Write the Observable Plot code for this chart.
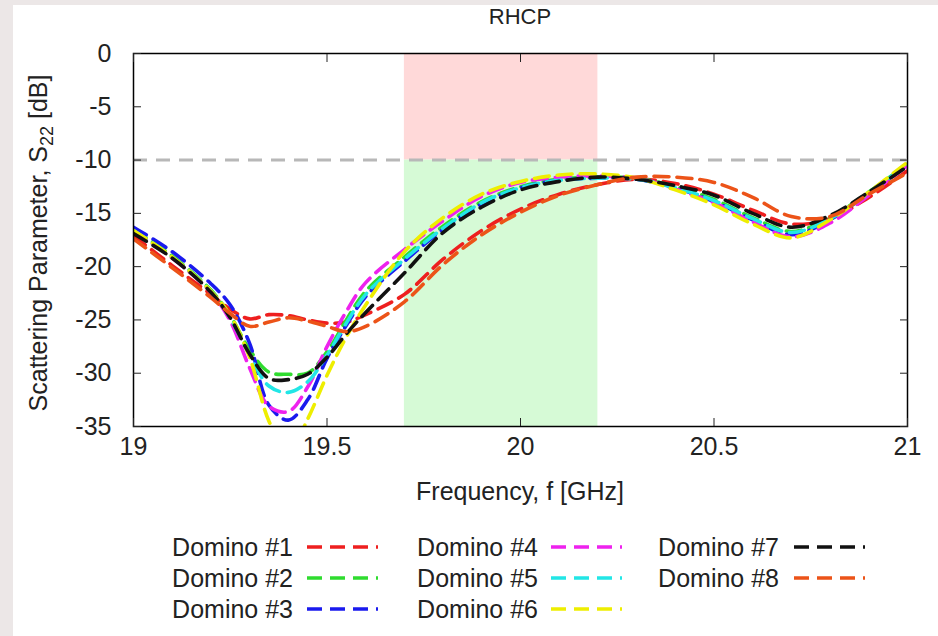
<!DOCTYPE html>
<html><head><meta charset="utf-8">
<script src="https://cdn.jsdelivr.net/npm/d3@7"></script>
<script src="https://cdn.jsdelivr.net/npm/@observablehq/plot@0.6"></script>
<style>
html,body{margin:0;padding:0;}
body{width:938px;height:636px;background:#ece7e7;position:relative;overflow:hidden;font-family:"Liberation Sans",Arial,sans-serif;color:#222;}
#sheet{position:absolute;left:13px;top:5px;right:0;bottom:0;background:#fff;}
#chart{position:absolute;left:0;top:0;}
#legend{position:absolute;left:0;top:0;width:938px;height:636px;}
.lt{position:absolute;font-size:25px;line-height:30px;height:30px;text-align:right;white-space:nowrap;}
.ls{position:absolute;}
</style></head><body>
<div id="sheet"></div>
<div id="chart"></div>
<div id="legend"></div>
<script>
const title = "RHCP";
const xLabel = "Frequency, f [GHz]";
const yLabelMain = "Scattering Parameter, S";
const yLabelSub = "22";
const yLabelEnd = " [dB]";
const xTicks = [19, 19.5, 20, 20.5, 21];
const yTicks = [0, -5, -10, -15, -20, -25, -30, -35];
const threshold = -10;
const bandStart = 19.7, bandEnd = 20.2;
const yMin = -35, yMax = 0;

const freq = [19.0, 19.1, 19.2, 19.25, 19.3, 19.35, 19.4, 19.45, 19.5, 19.55, 19.6, 19.7, 19.8, 19.9, 20.0, 20.1, 20.2, 20.3, 20.4, 20.5, 20.6, 20.7, 20.8, 20.9, 21.0];
const domino1 = [-17.1, -19.9, -22.6, -24.0, -24.9, -24.5, -24.6, -25.0, -25.3, -25.2, -24.5, -22.6, -19.3, -16.6, -14.6, -13.2, -12.3, -11.8, -12.2, -13.2, -14.7, -16.0, -15.5, -13.5, -11.0];
const domino2 = [-16.5, -19.0, -22.2, -24.6, -27.8, -29.9, -30.1, -30.0, -28.0, -25.0, -22.3, -19.1, -16.2, -13.9, -12.5, -11.8, -11.6, -11.7, -12.5, -13.7, -15.4, -16.7, -15.4, -13.0, -10.4];
const domino3 = [-16.3, -18.6, -21.6, -23.6, -27.2, -33.0, -34.4, -32.5, -28.6, -25.5, -22.8, -19.5, -16.5, -14.1, -12.6, -11.9, -11.7, -11.8, -12.6, -13.9, -15.6, -17.0, -15.6, -13.1, -10.5];
const domino4 = [-16.7, -19.2, -22.4, -25.1, -29.5, -33.1, -33.6, -31.3, -27.5, -24.2, -21.5, -18.4, -15.7, -13.4, -12.1, -11.6, -11.5, -11.7, -12.7, -14.0, -15.8, -17.2, -15.9, -13.3, -10.5];
const domino5 = [-16.6, -19.1, -22.3, -24.8, -28.3, -31.2, -31.8, -30.8, -28.3, -25.3, -22.6, -19.3, -16.4, -14.0, -12.6, -11.9, -11.7, -11.8, -12.6, -13.8, -15.5, -16.8, -15.5, -13.1, -10.4];
const domino6 = [-16.6, -19.1, -22.3, -24.6, -28.5, -34.5, -37.5, -34.3, -30.2, -26.6, -23.6, -18.6, -15.4, -13.2, -12.0, -11.4, -11.3, -11.7, -12.8, -14.2, -16.0, -17.3, -15.6, -13.0, -10.2];
const domino7 = [-16.9, -19.2, -22.4, -24.8, -28.2, -30.5, -30.6, -30.1, -28.5, -26.3, -24.3, -20.6, -16.8, -14.4, -12.8, -12.0, -11.6, -11.8, -12.4, -13.3, -15.0, -16.3, -15.2, -13.0, -10.6];
const domino8 = [-17.4, -20.1, -22.9, -24.4, -25.6, -25.2, -24.8, -25.1, -25.6, -26.1, -25.6, -23.3, -19.8, -17.0, -14.9, -13.3, -12.3, -11.6, -11.6, -12.1, -13.5, -15.3, -15.3, -13.2, -11.2];

const names = ["Domino #1","Domino #2","Domino #3","Domino #4","Domino #5","Domino #6","Domino #7","Domino #8"];
const colors = ["#ee1f1f","#2fdc2f","#1a1aee","#ee22ee","#22e6e6","#eeee00","#111111","#ec5318"];
const values = [domino1, domino2, domino3, domino4, domino5, domino6, domino7, domino8];

const rows = names.flatMap((n, k) => freq.map((f, i) => ({f, v: values[k][i], name: n})));
const bands = [
  {x1: bandStart, x2: bandEnd, y1: threshold, y2: yMax, fill: "#ffd9d9"},
  {x1: bandStart, x2: bandEnd, y1: yMin, y2: threshold, fill: "#d6fad6"}
];

const fontSize = 25;
const plot = Plot.plot({
  width: 938, height: 530,
  marginLeft: 133, marginRight: 31, marginTop: 53, marginBottom: 104,
  style: {background: "transparent", fontFamily: "'Liberation Sans', Arial, sans-serif", fontSize: fontSize + "px", color: "#222"},
  x: {domain: [19, 21]},
  y: {domain: [yMin, yMax]},
  color: {domain: names, range: colors},
  marks: [
    Plot.rect(bands, {x1: "x1", x2: "x2", y1: "y1", y2: "y2", fill: d => d.fill}),
    Plot.ruleY([threshold], {stroke: "#b8b8b8", strokeWidth: 3, strokeDasharray: "14,9"}),
    Plot.line(rows, {x: "f", y: "v", z: "name", stroke: "name", strokeWidth: 3.6, strokeDasharray: "15,8", curve: "catmull-rom", clip: true}),
    Plot.frame({stroke: "#000", strokeWidth: 1.5}),
    Plot.axisX({ticks: xTicks, tickSize: -8, tickPadding: 19, label: null, tickFormat: d => String(d), fill: "#222"}),
    Plot.axisX({anchor: "top", ticks: xTicks, tickSize: -8, label: null, tickFormat: () => ""}),
    Plot.axisY({ticks: yTicks, tickSize: -8, tickPadding: 30, label: null, tickFormat: d => String(d), fill: "#222"}),
    Plot.axisY({anchor: "right", ticks: yTicks, tickSize: -8, label: null, tickFormat: () => ""})
  ]
});
document.getElementById("chart").appendChild(plot);

const svg = d3.select(plot);
svg.append("text").attr("x", 520).attr("y", 24).attr("text-anchor", "middle")
  .attr("font-size", 22).attr("fill", "#222").text(title);
svg.append("text").attr("x", 520).attr("y", 500).attr("text-anchor", "middle")
  .attr("font-size", fontSize).attr("fill", "#222").text(xLabel);
const yl = svg.append("text").attr("transform", "translate(47,243) rotate(-90)")
  .attr("text-anchor", "middle").attr("font-size", fontSize).attr("fill", "#222");
yl.append("tspan").text(yLabelMain);
yl.append("tspan").attr("font-size", 18).attr("dy", 6).text(yLabelSub);
yl.append("tspan").attr("dy", -6).text(yLabelEnd);

// legend
const colTextRight = [293, 538, 779];
const colSample = [307, 551, 794];
const rowCenter = [547, 578, 609];
const legend = document.getElementById("legend");
names.forEach((n, k) => {
  const c = Math.floor(k / 3), r = k % 3;
  const t = document.createElement("div");
  t.className = "lt";
  t.style.left = (colTextRight[c] - 200) + "px";
  t.style.width = "200px";
  t.style.top = (rowCenter[r] - 15) + "px";
  t.textContent = n;
  legend.appendChild(t);
  const s = d3.create("svg").attr("class", "ls").attr("width", 74).attr("height", 10)
    .style("left", colSample[c] + "px").style("top", (rowCenter[r] - 5) + "px");
  s.append("line").attr("x1", 0).attr("x2", 71).attr("y1", 5).attr("y2", 5)
    .attr("stroke", colors[k]).attr("stroke-width", 3.6).attr("stroke-dasharray", "15,8");
  legend.appendChild(s.node());
});
</script>
</body></html>
